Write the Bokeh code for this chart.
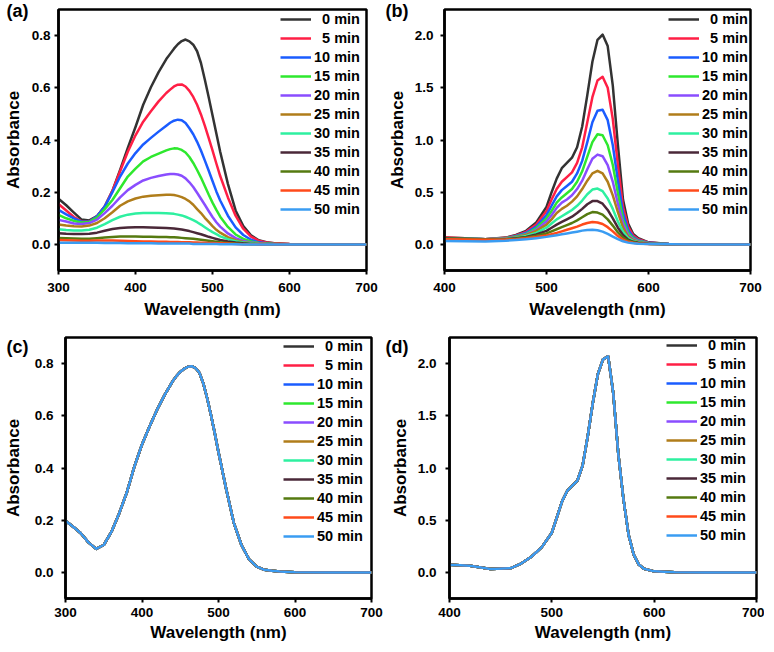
from bokeh.plotting import figure
from bokeh.models import Range1d, FixedTicker, PrintfTickFormatter, Legend, LegendItem
from bokeh.layouts import column, row
from bokeh.embed import file_html
from bokeh.resources import INLINE

NB = "\u00a0"
series_labels = [NB + NB + "0 min", NB + NB + "5 min", "10 min", "15 min", "20 min", "25 min",
                 "30 min", "35 min", "40 min", "45 min", "50 min"]
series_colors = ["#333333", "#ff1f45", "#1a5cff", "#2ee82e", "#8a4dff", "#b07d1a",
                 "#2ef0a0", "#4a2838", "#557a10", "#ff4a1a", "#3a9cf2"]

x_ticks_a = [300, 400, 500, 600, 700]
y_ticks_a = [0.0, 0.2, 0.4, 0.6, 0.8]
x_ticks_b = [400, 500, 600, 700]
y_ticks_b = [0.0, 0.5, 1.0, 1.5, 2.0]

# ---------- panel (a) ----------
wl_a = [300, 310, 320, 330, 340, 350, 360, 370, 380, 390, 400, 410, 420, 430, 440, 445, 450, 455,
        460, 465, 470, 475, 480, 485, 490, 495, 500, 505, 510, 520, 530, 540, 550, 560, 570, 580,
        600, 650, 700]
a_00 = [.175, .15, .122, .095, .092, .108, .145, .205, .285, .37, .45, .535, .602, .66, .71, .73, .75, .767,
        .779, .785, .778, .765, .74, .695, .632, .565, .495, .425, .355, .232, .13, .07, .035, .016, .008, .004,
        .002, .001, 0]
a_05 = [.155, .13, .105, .088, .088, .108, .145, .205, .28, .355, .418, .47, .51, .548, .58, .593, .605, .612,
        .613, .605, .588, .565, .535, .498, .455, .408, .36, .31, .262, .18, .11, .06, .03, .014, .007, .004,
        .002, .001, 0]
a_10 = [.132, .115, .1, .087, .087, .108, .145, .2, .26, .31, .35, .383, .408, .432, .455, .466, .474, .478,
        .476, .465, .445, .422, .393, .36, .322, .283, .243, .203, .168, .11, .065, .036, .018, .008, .004, .002,
        .001, 0, 0]
a_15 = [.113, .1, .09, .084, .086, .103, .135, .17, .215, .26, .29, .318, .335, .348, .36, .365, .368, .367,
        .362, .352, .335, .312, .285, .256, .224, .191, .16, .132, .106, .067, .038, .021, .011, .005, .003, .002,
        .001, 0, 0]
a_20 = [.094, .088, .08, .078, .082, .095, .12, .148, .18, .208, .228, .245, .255, .262, .268, .27, .27, .268,
        .263, .253, .238, .22, .198, .175, .152, .128, .105, .085, .068, .042, .024, .013, .007, .004, .002, .001,
        .001, 0, 0]
a_25 = [.076, .072, .07, .069, .072, .082, .1, .123, .148, .165, .176, .183, .186, .188, .19, .19, .189, .186,
        .181, .174, .165, .152, .135, .12, .102, .086, .07, .056, .045, .028, .016, .009, .005, .003, .002, .001,
        .001, 0, 0]
a_30 = [.058, .055, .053, .053, .056, .064, .078, .093, .106, .114, .118, .12, .12, .12, .119, .118, .117, .114,
        .111, .106, .1, .093, .085, .076, .066, .056, .047, .039, .031, .02, .012, .007, .004, .002, .001, .001,
        0, 0, 0]
a_35 = [.043, .041, .04, .04, .041, .045, .052, .059, .063, .065, .066, .066, .065, .064, .063, .062, .061, .059,
        .057, .054, .051, .047, .043, .039, .034, .029, .025, .021, .017, .011, .007, .004, .002, .001, .001, 0,
        0, 0, 0]
a_40 = [.025, .024, .023, .022, .022, .024, .026, .028, .03, .03, .03, .029, .029, .028, .028, .027, .027, .026,
        .025, .024, .023, .022, .02, .018, .016, .014, .012, .01, .008, .005, .003, .002, .001, .001, 0, 0,
        0, 0, 0]
a_45 = [.017, .016, .015, .014, .014, .015, .015, .015, .014, .013, .012, .011, .011, .01, .01, .009, .009, .009,
        .008, .008, .008, .007, .007, .006, .006, .005, .005, .004, .004, .003, .002, .001, .001, 0, 0, 0,
        0, 0, 0]
a_50 = [.006, .006, .006, .006, .006, .006, .005, .005, .005, .004, .004, .004, .004, .003, .003, .003, .003, .003,
        .003, .003, .003, .002, .002, .002, .002, .002, .002, .002, .001, .001, .001, 0, 0, 0, 0, 0,
        0, 0, 0]

# ---------- panel (b) ----------
wl_b = [400, 420, 440, 460, 470, 480, 490, 500, 505, 510, 515, 520, 525, 530, 535, 540, 545, 550,
        555, 560, 565, 570, 575, 580, 585, 590, 600, 620, 650, 700]
b_00 = [.065, .06, .05, .065, .09, .13, .21, .36, .5, .63, .73, .78, .83, .93, 1.13, 1.43, 1.75, 1.96,
        2.01, 1.9, 1.52, .95, .43, .2, .1, .06, .02, .005, 0, 0]
b_05 = [.065, .06, .05, .063, .085, .12, .19, .32, .43, .53, .6, .645, .69, .78, .93, 1.17, 1.41, 1.57,
        1.605, 1.5, 1.2, .76, .36, .17, .085, .05, .018, .005, 0, 0]
b_10 = [.06, .058, .05, .06, .08, .11, .17, .28, .37, .46, .52, .56, .6, .68, .8, .98, 1.17, 1.28,
        1.29, 1.19, .95, .61, .3, .14, .07, .04, .015, .004, 0, 0]
b_15 = [.06, .057, .05, .058, .075, .1, .155, .25, .32, .4, .45, .49, .53, .6, .7, .84, .98, 1.055,
        1.045, .95, .76, .49, .24, .11, .06, .035, .013, .003, 0, 0]
b_20 = [.06, .057, .05, .056, .07, .095, .14, .22, .28, .35, .4, .43, .47, .53, .61, .72, .82, .86,
        .845, .76, .6, .39, .2, .09, .05, .03, .011, .003, 0, 0]
b_25 = [.058, .055, .05, .054, .068, .09, .13, .19, .24, .3, .34, .37, .41, .46, .53, .61, .68, .705,
        .68, .6, .47, .31, .16, .075, .04, .025, .009, .002, 0, 0]
b_30 = [.058, .055, .05, .052, .063, .08, .11, .16, .2, .24, .27, .3, .33, .37, .42, .48, .525, .535,
        .51, .44, .34, .22, .12, .06, .032, .02, .007, .002, 0, 0]
b_35 = [.056, .053, .048, .05, .058, .072, .095, .13, .16, .19, .215, .24, .265, .3, .34, .385, .415, .415,
        .39, .33, .25, .16, .09, .045, .025, .015, .006, .002, 0, 0]
b_40 = [.055, .052, .047, .048, .054, .065, .082, .105, .125, .145, .165, .185, .205, .23, .26, .29, .31, .305,
        .285, .24, .18, .115, .065, .035, .02, .012, .005, .001, 0, 0]
b_45 = [.05, .048, .045, .046, .05, .058, .07, .085, .097, .11, .125, .14, .155, .17, .19, .205, .215, .21,
        .195, .165, .125, .08, .045, .025, .015, .009, .004, .001, 0, 0]
b_50 = [.032, .03, .028, .035, .042, .05, .06, .072, .08, .088, .097, .105, .113, .122, .132, .139, .14, .135,
        .122, .1, .075, .05, .03, .017, .01, .006, .003, .001, 0, 0]

# ---------- panel (c): all eleven spectra coincide ----------
c_spectrum = [.198, .175, .15, .115, .09, .105, .155, .225, .305, .405, .49, .56, .625, .682, .732, .752, .768,
              .78, .788, .79, .783, .765, .725, .67, .605, .535, .46, .39, .32, .19, .105, .05, .022, .01, .006,
              .003, .001, 0, 0]
# ---------- panel (d): all eleven spectra coincide ----------
d_spectrum = [.073, .064, .033, .04, .085, .15, .24, .38, .53, .68, .78, .83, .88, 1.02, 1.3, 1.62, 1.9, 2.04,
              2.07, 1.72, 1.13, .7, .36, .17, .075, .035, .01, .002, 0, 0]

series_a = [a_00, a_05, a_10, a_15, a_20, a_25, a_30, a_35, a_40, a_45, a_50]
series_b = [b_00, b_05, b_10, b_15, b_20, b_25, b_30, b_35, b_40, b_45, b_50]
series_c = [c_spectrum] * 11
series_d = [d_spectrum] * 11

FONT = "Liberation Sans"


def make_panel(frame_w, frame_h, borders, xr, yr, xt, yt, wl, series, tag, tag_dx, tag_standoff, tag_lh,
               leg_xy, tick_standoff, ylab_standoff, xtick_standoff, xlab_standoff):
    bl, br, bt, bb = borders
    p = figure(frame_width=frame_w, frame_height=frame_h,
               x_range=Range1d(*xr), y_range=Range1d(*yr),
               output_backend="svg", toolbar_location=None,
               min_border_left=bl, min_border_right=br, min_border_top=bt, min_border_bottom=bb)
    items = []
    for lab, col, ys in zip(series_labels, series_colors, series):
        r = p.line(wl, ys, line_color=col, line_width=2.5, line_join="round")
        items.append(LegendItem(label=lab, renderers=[r]))
    leg = Legend(items=items, location=leg_xy, padding=0, margin=0, spacing=1,
                 glyph_width=31, glyph_height=18, label_height=18, label_standoff=3,
                 background_fill_alpha=0, border_line_alpha=0,
                 label_text_font=FONT, label_text_font_style="bold",
                 label_text_font_size="14.5px", label_text_color="black")
    p.add_layout(leg)

    p.xgrid.visible = False
    p.ygrid.visible = False
    p.outline_line_color = "black"
    p.outline_line_width = 2.5
    p.outline_line_alpha = 1
    p.background_fill_color = "white"
    p.border_fill_color = "white"

    for ax in (p.xaxis[0], p.yaxis[0]):
        ax.axis_line_width = 2.5
        ax.axis_line_color = "black"
        ax.major_tick_line_width = 2
        ax.major_tick_line_color = "black"
        ax.major_tick_in = 0
        ax.major_tick_out = 4
        ax.minor_tick_line_color = None
        ax.major_label_text_font = FONT
        ax.major_label_text_font_style = "bold"
        ax.major_label_text_font_size = "13.5px"
        ax.major_label_text_color = "black"
        ax.axis_label_text_font = FONT
        ax.axis_label_text_font_style = "bold"
        ax.axis_label_text_font_size = "17px"
        ax.axis_label_text_color = "black"

    p.xaxis[0].ticker = FixedTicker(ticks=xt)
    p.yaxis[0].ticker = FixedTicker(ticks=yt)
    p.yaxis[0].formatter = PrintfTickFormatter(format="%.1f")
    p.xaxis[0].axis_label = "Wavelength (nm)"
    p.yaxis[0].axis_label = "Absorbance"
    p.xaxis[0].major_label_standoff = xtick_standoff
    p.xaxis[0].axis_label_standoff = xlab_standoff
    p.yaxis[0].major_label_standoff = tick_standoff
    p.yaxis[0].axis_label_standoff = ylab_standoff

    # panel tag drawn as the (left-aligned, shifted) title
    t = p.title
    t.text = tag
    t.align = "left"
    t.vertical_align = "bottom"
    t.offset = tag_dx
    t.standoff = tag_standoff
    t.text_font = FONT
    t.text_font_style = "bold"
    t.text_font_size = "18px"
    t.text_color = "black"
    if "text_line_height" in t.properties():
        t.text_line_height = tag_lh
    return p


pa = make_panel(308, 261, (52, 17, 0, 63), (300, 700), (-0.1, 0.9), x_ticks_a, y_ticks_a, wl_a, series_a,
                "\n(a)", -52, -23.25, 0.5, (222, 52), 4, 6, 8, 5)
pb = make_panel(306, 261, (61, 14, 0, 63), (400, 700), (-0.25, 2.25), x_ticks_b, y_ticks_b, wl_b, series_b,
                "\n(b)", -59, -23.25, 0.5, (224, 52), 7, 5, 8, 5)
pc = make_panel(306, 261, (59, 12, 0, 47), (300, 700), (-0.1, 0.9), x_ticks_a, y_ticks_a, wl_a, series_c,
                "\n(c)", -59, -38, 1.0, (218, 53), 8, 9, 5, 3)
pd = make_panel(307, 261, (66, 8, 0, 47), (400, 700), (-0.25, 2.25), x_ticks_b, y_ticks_b, wl_b, series_d,
                "\n(d)", -64, -38, 1.0, (217, 54), 9, 5, 5, 3)

layout = column(row(pa, pb), row(pc, pd))
open("out.html", "w").write(file_html(layout, INLINE))
